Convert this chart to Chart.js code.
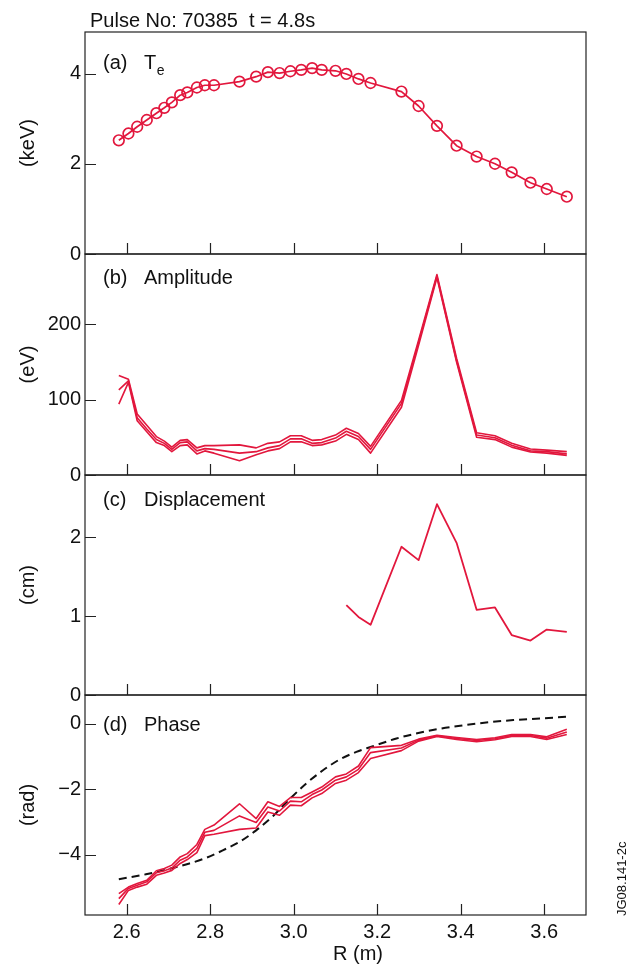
<!DOCTYPE html>
<html><head><meta charset="utf-8">
<script src="https://cdn.jsdelivr.net/npm/chart.js@4/dist/chart.umd.min.js"></script>
<style>
html,body{margin:0;padding:0;background:#fff;}
#wrap{position:relative;width:633px;height:969px;overflow:hidden;}
canvas{position:absolute;left:0;top:0;}
</style></head><body>
<div id="wrap">
<canvas id="pa" width="633" height="969"></canvas>
<canvas id="pb" width="633" height="969"></canvas>
<canvas id="pc" width="633" height="969"></canvas>
<canvas id="pd" width="633" height="969"></canvas>
</div>
<script>
// ---------- data ----------
const chartTitle = 'Pulse No: 70385  t = 4.8s';
const xTitle = 'R (m)';
const figId = 'JG08.141-2c';

// major radius of ECE channels (m)
const R = [2.581, 2.604, 2.625, 2.648, 2.671, 2.690, 2.708, 2.728, 2.745, 2.768, 2.787, 2.809,
           2.870, 2.910, 2.938, 2.966, 2.992, 3.018, 3.044, 3.067, 3.100, 3.126, 3.155, 3.184,
           3.258, 3.299, 3.343, 3.390, 3.438, 3.482, 3.522, 3.567, 3.606, 3.654];

// (a) Te (keV)
const Te = [2.52, 2.67, 2.82, 2.97, 3.12, 3.24, 3.36, 3.52, 3.58, 3.69, 3.74, 3.74,
            3.82, 3.93, 4.03, 4.01, 4.05, 4.08, 4.12, 4.08, 4.06, 3.99, 3.88, 3.79,
            3.60, 3.28, 2.84, 2.40, 2.16, 2.00, 1.81, 1.58, 1.44, 1.27];

// (b) Amplitude (eV), three traces
const ampA = [132, 127, 81, 66, 51, 45, 37, 46, 47, 36, 39, 39,
              40, 36, 42, 44, 52, 52, 46, 47, 53, 62, 55, 38,
              99, 179, 266, 155, 56, 52, 42, 34.5, 33, 31];
const ampB = [113, 125, 76, 61, 47, 42, 34, 43, 44, 32, 35, 34,
              29, 31, 36, 39, 48, 48, 42, 43, 49, 58, 51, 34,
              95, 176, 264, 152, 53, 49.5, 39.5, 32, 31, 28];
const ampC = [94, 123, 72, 57.5, 43, 39, 31, 39, 40, 28, 32, 29,
              19, 27, 32, 35, 44, 44, 39, 40, 45, 54, 47, 29,
              90, 172, 262, 150, 50, 47, 37, 30.5, 29, 26];

// (c) Displacement (cm)
const dispR = [3.126, 3.155, 3.184, 3.258, 3.299, 3.343, 3.390, 3.438, 3.482, 3.522, 3.567, 3.606, 3.654];
const disp  = [1.14, 0.99, 0.89, 1.88, 1.71, 2.42, 1.93, 1.08, 1.11, 0.76, 0.69, 0.83, 0.80];

// (d) Phase (rad), three traces
const phA = [-5.18, -4.98, -4.87, -4.77, -4.48, -4.41, -4.31, -4.06, -3.96, -3.68, -3.22, -3.09,
             -2.44, -2.89, -2.38, -2.52, -2.25, -2.25, -2.08, -1.93, -1.62, -1.53, -1.29, -0.73,
             -0.66, -0.47, -0.35, -0.42, -0.48, -0.43, -0.33, -0.33, -0.40, -0.17];
const phB = [-5.33, -5.02, -4.92, -4.82, -4.54, -4.48, -4.40, -4.16, -4.06, -3.80, -3.31, -3.25,
             -2.81, -3.01, -2.54, -2.66, -2.36, -2.38, -2.16, -2.02, -1.72, -1.62, -1.39, -0.88,
             -0.74, -0.50, -0.37, -0.45, -0.51, -0.46, -0.36, -0.36, -0.44, -0.25];
const phC = [-5.51, -5.08, -4.98, -4.89, -4.62, -4.55, -4.47, -4.26, -4.14, -3.93, -3.41, -3.37,
             -3.22, -3.18, -2.69, -2.79, -2.48, -2.50, -2.26, -2.13, -1.82, -1.72, -1.49, -1.06,
             -0.82, -0.53, -0.39, -0.48, -0.55, -0.49, -0.39, -0.39, -0.48, -0.33];
// dashed reference phase curve
const modelR = [2.581, 2.646, 2.710, 2.750, 2.790, 2.830, 2.870, 2.910, 2.950, 2.990, 3.030, 3.070,
                3.110, 3.150, 3.184, 3.246, 3.286, 3.342, 3.406, 3.470, 3.526, 3.590, 3.654];
const modelPh = [-4.74, -4.59, -4.40, -4.26, -4.09, -3.86, -3.60, -3.25, -2.82, -2.30, -1.82, -1.42,
                 -1.09, -0.86, -0.71, -0.45, -0.32, -0.17, -0.05, 0.05, 0.11, 0.16, 0.21];

// tick values
const xTicks = [2.6, 2.8, 3.0, 3.2, 3.4, 3.6];
const teTicks = [0, 2, 4];
const ampTicks = [0, 100, 200];
const dispTicks = [0, 1, 2];
const phaseTicks = [-4, -2, 0];

// ---------- drawing ----------
const FONT = "'Liberation Sans', Arial, Helvetica, sans-serif";
const RED = '#e2173d';
const INK = '#111';
Chart.defaults.font.family = FONT;
Chart.defaults.color = INK;

const pts = (xs, ys) => xs.map((x, i) => ({x, y: ys[i]}));
const minusFmt = v => (v < 0 ? '\u2212' + Math.abs(v) : String(v));

const deco = {
  id: 'deco',
  afterDatasetsDraw(chart, args, o) {
    const {ctx, chartArea: a, scales: {x, y}} = chart;
    ctx.save();
    ctx.strokeStyle = '#222';
    ctx.lineWidth = 1.2;
    ctx.strokeRect(a.left, a.top, a.right - a.left, a.bottom - a.top);
    ctx.beginPath();
    xTicks.forEach(v => {
      const px = Math.round(x.getPixelForValue(v)) + 0.5;
      ctx.moveTo(px, a.bottom); ctx.lineTo(px, a.bottom - 11);
    });
    o.yTicks.forEach(v => {
      const py = Math.round(y.getPixelForValue(v)) + 0.5;
      ctx.moveTo(a.left, py); ctx.lineTo(a.left + 11, py);
    });
    ctx.stroke();
    ctx.fillStyle = INK;
    ctx.textAlign = 'left';
    ctx.textBaseline = 'alphabetic';
    ctx.font = '20px ' + FONT;
    ctx.fillText(o.tag, 103, o.labelY);
    ctx.fillText(o.name, 144, o.labelY);
    if (o.sub) {
      const w = ctx.measureText(o.name).width;
      ctx.font = '14px ' + FONT;
      ctx.fillText(o.sub, 144 + w + 0.5, o.labelY + 6);
    }
    if (o.title) {
      ctx.font = '20px ' + FONT;
      ctx.fillText(o.title, 90, 26.5);
    }
    if (o.xTitle) {
      ctx.font = '20px ' + FONT;
      ctx.textAlign = 'center';
      ctx.fillText(o.xTitle, 358, 960);
    }
    if (o.figId) {
      ctx.save();
      ctx.translate(626, 916);
      ctx.rotate(-Math.PI / 2);
      ctx.font = '13px ' + FONT;
      ctx.textAlign = 'left';
      ctx.fillText(o.figId, 0, 0);
      ctx.restore();
    }
    ctx.restore();
  }
};

function panel(id, p) {
  const bottomAxis = !!p.bottomAxis;
  return new Chart(document.getElementById(id), {
    type: 'line',
    data: {datasets: p.datasets},
    options: {
      responsive: false, animation: false, devicePixelRatio: 1,
      layout: {padding: {left: 0, right: 47, top: p.top, bottom: bottomAxis ? 0 : 969 - p.bottom}},
      plugins: {legend: {display: false}, tooltip: {enabled: false}, deco: p.deco},
      elements: {point: {radius: 0}, line: {borderJoinStyle: 'round'}},
      scales: {
        x: {
          type: 'linear', min: 2.5, max: 3.7,
          afterFit: s => { s.height = bottomAxis ? 969 - p.bottom : 0; },
          afterBuildTicks: s => { s.ticks = xTicks.map(v => ({value: v})); },
          grid: {display: false, drawTicks: false}, border: {display: false},
          ticks: {display: bottomAxis, padding: 5, font: {size: 20}, color: INK,
                  autoSkip: false, maxRotation: 0, callback: v => Number(v).toFixed(1)}
        },
        y: {
          type: 'linear', min: p.ymin, max: p.ymax,
          afterFit: s => { s.width = 85; },
          afterBuildTicks: s => { s.ticks = p.yTicks.map(v => ({value: v})); },
          grid: {display: false, drawTicks: false}, border: {display: false},
          ticks: {padding: 4, font: {size: 20}, color: INK, autoSkip: false, callback: minusFmt},
          title: {display: true, text: p.unit, font: {size: 20}, color: INK, padding: {top: 16, bottom: 0}}
        }
      }
    },
    plugins: [deco]
  });
}

const redLine = (data, w) => ({data, borderColor: RED, borderWidth: w || 1.6, pointRadius: 0, fill: false, tension: 0});

panel('pa', {
  top: 32, bottom: 254, ymin: 0, ymax: 4.92, yTicks: teTicks, unit: '(keV)',
  deco: {tag: '(a)', name: 'T', sub: 'e', labelY: 69, yTicks: teTicks, title: chartTitle},
  datasets: [{data: pts(R, Te), borderColor: RED, borderWidth: 1.7, tension: 0,
              pointRadius: 5.3, pointBorderWidth: 1.7, pointBorderColor: RED,
              pointBackgroundColor: 'rgba(0,0,0,0)', fill: false}]
});

panel('pb', {
  top: 254, bottom: 475, ymin: 0, ymax: 293.3, yTicks: ampTicks, unit: '(eV)',
  deco: {tag: '(b)', name: 'Amplitude', labelY: 284, yTicks: ampTicks},
  datasets: [redLine(pts(R, ampA)), redLine(pts(R, ampB)), redLine(pts(R, ampC))]
});

panel('pc', {
  top: 475, bottom: 695, ymin: 0, ymax: 2.79, yTicks: dispTicks, unit: '(cm)',
  deco: {tag: '(c)', name: 'Displacement', labelY: 506, yTicks: dispTicks},
  datasets: [redLine(pts(dispR, disp), 1.8)]
});

panel('pd', {
  top: 695, bottom: 915, bottomAxis: true, ymin: -5.83, ymax: 0.875, yTicks: phaseTicks, unit: '(rad)',
  deco: {tag: '(d)', name: 'Phase', labelY: 731, yTicks: phaseTicks, xTitle: xTitle, figId: figId},
  datasets: [
    redLine(pts(R, phA)), redLine(pts(R, phB)), redLine(pts(R, phC)),
    {data: pts(modelR, modelPh), borderColor: '#111', borderWidth: 2, borderDash: [8, 5],
     pointRadius: 0, fill: false, cubicInterpolationMode: 'monotone'}
  ]
});
</script>
</body></html>
